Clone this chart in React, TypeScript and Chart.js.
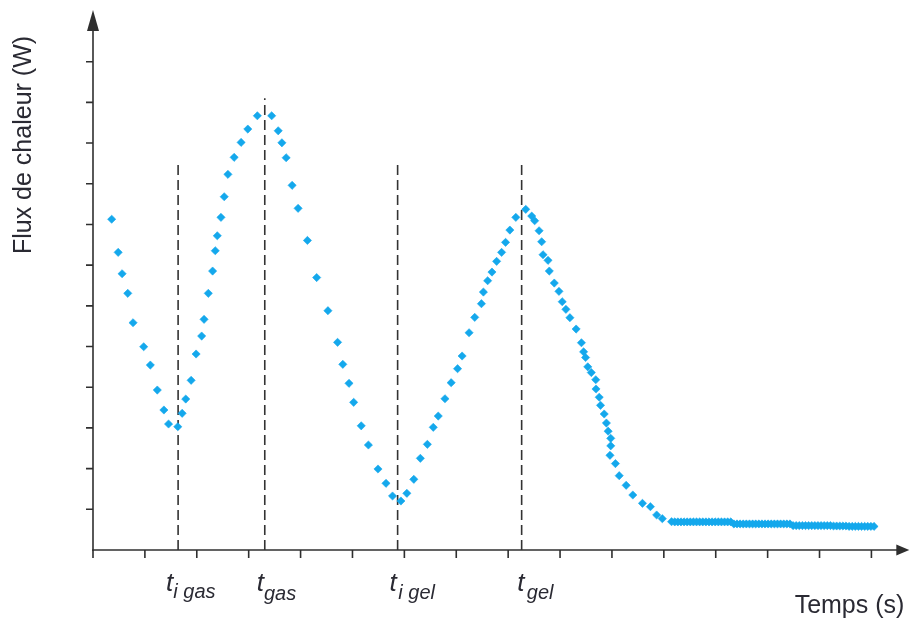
import React, { useEffect, useRef } from "react";
import { Chart, registerables } from "chart.js";

Chart.register(...registerables);

// Measured heat-flow points (time in tick units, flux in tick units)
const timeValues = [
  0.36, 0.485, 0.561, 0.67, 0.772, 0.977, 1.105, 1.239, 1.366, 1.456, 1.634,
  1.718, 1.787, 1.891, 1.987, 2.094, 2.14, 2.222, 2.305, 2.356, 2.395, 2.466, 2.529, 2.6, 2.72, 2.854, 2.983, 3.167,
  3.443, 3.569, 3.64, 3.722, 3.837, 3.952, 4.132, 4.31, 4.527, 4.713, 4.814, 4.933, 5.023, 5.169, 5.307, 5.492, 5.646, 5.772, 5.933,
  6.048, 6.182, 6.308, 6.443, 6.557, 6.653, 6.782, 6.902, 7.025, 7.113, 7.247, 7.356, 7.485, 7.523, 7.605, 7.688, 7.778, 7.874, 7.95, 8.033, 8.148, 8.339,
  8.454, 8.511, 8.596, 8.646, 8.672, 8.768, 8.793, 8.889, 8.979, 9.042, 9.113, 9.19, 9.31, 9.412, 9.454, 9.492, 9.534, 9.602, 9.688, 9.693,
  9.755, 9.78, 9.851, 9.893, 9.927, 9.977, 9.977, 9.962, 10.067, 10.14, 10.274, 10.402, 10.588, 10.741, 10.862, 10.971, 11.149,
  11.21, 11.27, 11.33, 11.39, 11.45, 11.51, 11.57, 11.63, 11.69, 11.75, 11.81, 11.87, 11.93, 11.99, 12.05, 12.11, 12.17, 12.23, 12.29,
  12.35, 12.41, 12.47, 12.53, 12.59, 12.65, 12.71, 12.77, 12.83, 12.89, 12.95, 13.01, 13.07, 13.13, 13.19, 13.25, 13.31, 13.37, 13.43,
  13.49, 13.55, 13.61, 13.67, 13.73, 13.79, 13.85, 13.91, 13.97, 14.03, 14.09, 14.15, 14.21, 14.27, 14.33, 14.39, 14.45, 14.51, 14.57,
  14.63, 14.69, 14.75, 14.81, 14.87, 14.93, 14.99, 15.05,
];
const fluxValues = [
  8.128, 7.314, 6.789, 6.307, 5.585, 4.995, 4.545, 3.931, 3.44, 3.096, 3.029,
  3.359, 3.71, 4.17, 4.816, 5.258, 5.668, 6.307, 6.855, 7.354, 7.722, 8.174, 8.681, 9.231, 9.649, 10.017, 10.344, 10.671,
  10.671, 10.302, 10.007, 9.639, 8.961, 8.396, 7.607, 6.695, 5.88, 5.103, 4.563, 4.096, 3.629, 3.052, 2.58, 1.99, 1.639, 1.327, 1.204,
  1.393, 1.737, 2.253, 2.597, 3.015, 3.292, 3.717, 4.111, 4.455, 4.767, 5.339, 5.717, 6.052, 6.339, 6.617, 6.83, 7.093, 7.314, 7.56, 7.862, 8.174, 8.371,
  8.206, 8.091, 7.845, 7.575, 7.256, 7.118, 6.855, 6.56, 6.356, 6.101, 5.914, 5.708, 5.43, 5.093, 4.87, 4.73, 4.501, 4.361, 4.184, 3.956,
  3.754, 3.555, 3.342, 3.12, 2.919, 2.744, 2.56, 2.327, 2.123, 1.826, 1.59, 1.351, 1.147, 1.064, 0.86, 0.769, 0.695,
  0.69, 0.69, 0.69, 0.69, 0.69, 0.69, 0.69, 0.69, 0.69, 0.69, 0.69, 0.69, 0.69, 0.69, 0.69, 0.69, 0.69, 0.69, 0.69,
  0.64, 0.64, 0.64, 0.64, 0.64, 0.64, 0.64, 0.64, 0.64, 0.64, 0.64, 0.64, 0.64, 0.64, 0.64, 0.64, 0.64, 0.64, 0.64,
  0.6, 0.6, 0.6, 0.6, 0.6, 0.6, 0.6, 0.6, 0.6, 0.6, 0.6, 0.6, 0.6, 0.59, 0.59, 0.59, 0.59, 0.59, 0.58,
  0.58, 0.58, 0.58, 0.58, 0.58, 0.58, 0.58, 0.58,
];

// Characteristic times (dashed markers)
const eventTimes = [1.64, 3.31, 5.87, 8.26];
const eventTops = [9.46, 11.1, 9.46, 9.46];
const eventSubscripts = ["i gas", "gas", "i gel", "gel"];

// Axis tick positions (unlabelled)
const xTickValues = [0, 1, 2, 3, 4, 5, 6, 7, 8, 9, 10, 11, 12, 13, 14, 15];
const yTickValues = [1, 2, 3, 4, 5, 6, 7, 8, 9, 10, 11, 12];

const xAxisTitle = "Temps (s)";
const yAxisTitle = "Flux de chaleur (W)";

const AXIS_COLOR = "#2f2f2f";
const TEXT_COLOR = "#2a2a33";
const POINT_COLOR = "#14a8ec";
const FONT = "'Liberation Sans', Arial, sans-serif";

// label offsets relative to dashed line (style only)
const labelStyle = [
  { tdx: -12, sdx: 0, sy: 598 },
  { tdx: -8, sdx: 0, sy: 600 },
  { tdx: -8, sdx: 1.5, sy: 599 },
  { tdx: -4.5, sdx: 2.5, sy: 599 },
];

const decorPlugin = {
  id: "decor",
  beforeDatasetsDraw(chart: any) {
    const { ctx } = chart;
    const xs = chart.scales.x;
    const ys = chart.scales.y;
    const x0 = xs.getPixelForValue(0);
    const y0 = ys.getPixelForValue(0);
    const top = chart.chartArea.top;
    const right = chart.chartArea.right;
    ctx.save();
    ctx.strokeStyle = AXIS_COLOR;
    ctx.fillStyle = AXIS_COLOR;
    ctx.lineWidth = 1.6;
    // y axis
    ctx.beginPath();
    ctx.moveTo(x0, y0 + 0.8);
    ctx.lineTo(x0, top + 14);
    ctx.stroke();
    ctx.beginPath();
    ctx.moveTo(x0, top);
    ctx.lineTo(x0 - 6, top + 21);
    ctx.lineTo(x0 + 6, top + 21);
    ctx.closePath();
    ctx.fill();
    // x axis
    ctx.beginPath();
    ctx.moveTo(x0 - 0.8, y0);
    ctx.lineTo(right - 8, y0);
    ctx.stroke();
    ctx.beginPath();
    ctx.moveTo(right, y0);
    ctx.lineTo(right - 13, y0 - 5.5);
    ctx.lineTo(right - 13, y0 + 5.5);
    ctx.closePath();
    ctx.fill();
    // ticks
    ctx.beginPath();
    for (const v of xTickValues) {
      const px = xs.getPixelForValue(v);
      ctx.moveTo(px, y0);
      ctx.lineTo(px, y0 + 8);
    }
    for (const v of yTickValues) {
      const py = ys.getPixelForValue(v);
      ctx.moveTo(x0 - 7, py);
      ctx.lineTo(x0, py);
    }
    ctx.stroke();

    // titles
    ctx.fillStyle = TEXT_COLOR;
    ctx.font = `25px ${FONT}`;
    ctx.textAlign = "center";
    ctx.textBaseline = "alphabetic";
    ctx.fillText(xAxisTitle, 849.5, 613);
    ctx.save();
    ctx.translate(31, 145);
    ctx.rotate(-Math.PI / 2);
    ctx.fillText(yAxisTitle, 0, 0);
    ctx.restore();

    // event labels
    ctx.textAlign = "left";
    eventTimes.forEach((t, i) => {
      const px = xs.getPixelForValue(t);
      const st = labelStyle[i];
      ctx.font = `italic 26px ${FONT}`;
      ctx.fillText("t", px + st.tdx, 591);
      const tw = ctx.measureText("t").width;
      ctx.font = `italic 20px ${FONT}`;
      ctx.fillText(eventSubscripts[i], px + st.tdx + tw + st.sdx, st.sy);
    });
    ctx.restore();
  },
};

export default function App() {
  const ref = useRef<HTMLCanvasElement | null>(null);
  useEffect(() => {
    if (!ref.current) return;
    const points = timeValues.map((t, i) => ({ x: t, y: fluxValues[i] }));
    const dashed = eventTimes.map((t, i) => ({
      type: "line" as const,
      data: [
        { x: t, y: 0 },
        { x: t, y: eventTops[i] },
      ],
      borderColor: "#333333",
      borderWidth: 1.6,
      borderDash: [10, 5],
      pointRadius: 0,
      showLine: true,
      fill: false,
      clip: false as any,
      order: 2,
    }));
    const chart = new Chart(ref.current, {
      type: "scatter",
      data: {
        datasets: [
          ...dashed,
          {
            type: "scatter",
            data: points,
            pointStyle: "rectRot",
            pointRadius: 4.1,
            pointHoverRadius: 4.1,
            backgroundColor: POINT_COLOR,
            borderColor: POINT_COLOR,
            borderWidth: 0.6,
            clip: false as any,
            order: 1,
          },
        ] as any,
      },
      options: {
        animation: false,
        responsive: false,
        devicePixelRatio: 1,
        layout: { padding: { left: 93, right: 0, top: 10, bottom: 72 } },
        scales: {
          x: { type: "linear", min: 0, max: 15.73, display: false },
          y: { type: "linear", min: 0, max: 13.27, display: false },
        },
        plugins: {
          legend: { display: false },
          tooltip: { enabled: false },
        },
        events: [],
      },
      plugins: [decorPlugin],
    });
    return () => chart.destroy();
  }, []);
  return (
    <div style={{ position: "absolute", left: 0, top: 0, width: 914, height: 622, background: "#fff" }}>
      <canvas ref={ref} width={914} height={622} style={{ display: "block" }} />
    </div>
  );
}
